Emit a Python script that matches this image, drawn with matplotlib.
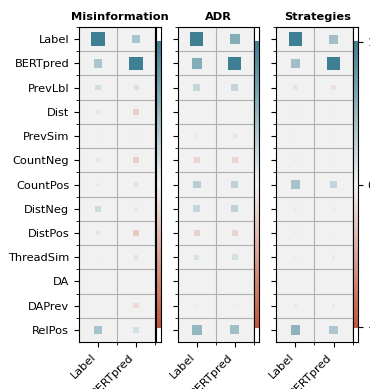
import numpy as np
import matplotlib
matplotlib.use("Agg")
import matplotlib.pyplot as plt
import seaborn as sns

features = ["Label", "BERTpred", "PrevLbl", "Dist", "PrevSim", "CountNeg", "CountPos",
            "DistNeg", "DistPos", "ThreadSim", "DA", "DAPrev", "RelPos"]
targets = ["Label", "BERTpred"]
tasks = ["Misinformation", "ADR", "Strategies"]

misinfo_label = [1.0, 0.40, 0.18, -0.10, 0.02, -0.10, 0.06, 0.20, -0.10, 0.04, 0.0, 0.0, 0.42]
misinfo_bert = [0.40, 1.0, 0.14, -0.22, 0.05, -0.22, -0.12, 0.08, -0.25, 0.12, 0.0, -0.15, 0.16]
adr_label = [1.0, 0.60, 0.24, 0.0, 0.06, -0.18, 0.32, 0.25, -0.20, 0.15, 0.0, -0.04, 0.52]
adr_bert = [0.60, 1.0, 0.25, 0.0, 0.10, -0.18, 0.28, 0.28, -0.18, 0.17, 0.0, -0.04, 0.46]
strat_label = [1.0, 0.45, -0.10, 0.05, 0.03, -0.05, 0.42, -0.07, -0.05, 0.05, 0.0, 0.08, 0.55]
strat_bert = [0.45, 1.0, -0.10, 0.03, 0.05, -0.04, 0.25, -0.06, -0.04, 0.08, 0.0, 0.07, 0.38]

task_values = {
    "Misinformation": (misinfo_label, misinfo_bert),
    "ADR": (adr_label, adr_bert),
    "Strategies": (strat_label, strat_bert),
}

n_colors = 256
palette = sns.diverging_palette(20, 220, n=n_colors)
color_min, color_max = -1, 1
size_scale = 92


def value_to_color(val):
    pos = (val - color_min) / (color_max - color_min)
    ind = int(pos * (n_colors - 1))
    return palette[ind]


fig = plt.figure(figsize=(3.7, 3.89), dpi=100)
outer = fig.add_gridspec(1, 3, left=0.2135, right=0.9676, top=0.9306, bottom=0.1208, wspace=0.21)

fs = 8.2
for i, task in enumerate(tasks):
    inner = outer[i].subgridspec(1, 15, wspace=0.1)
    ax = fig.add_subplot(inner[0, :-1])
    cax = fig.add_subplot(inner[0, -1])

    xs, ys, sizes, colors = [], [], [], []
    for j, col_vals in enumerate(task_values[task]):
        for k, v in enumerate(col_vals):
            xs.append(j)
            ys.append(len(features) - 1 - k)
            sizes.append(abs(v) * size_scale)
            colors.append(value_to_color(v))
    ax.scatter(xs, ys, s=sizes, c=colors, marker="s", linewidths=0)

    ax.set_xticks(range(len(targets)))
    ax.set_xticklabels(targets, rotation=45, ha="right", fontsize=fs)
    ax.set_yticks(range(len(features)))
    if i == 0:
        ax.set_yticklabels(features[::-1], fontsize=fs)
    else:
        ax.set_yticklabels([])
    ax.grid(False, "major")
    ax.grid(True, "minor")
    ax.set_xticks([t + 0.5 for t in range(len(targets))], minor=True)
    ax.set_yticks([t + 0.5 for t in range(len(features))], minor=True)
    ax.set_xlim(-0.5, len(targets) - 0.5)
    ax.set_ylim(-0.5, len(features) - 0.5)
    ax.set_facecolor("#F1F1F1")

    bar_y = np.linspace(color_min, color_max, n_colors)
    bar_h = bar_y[1] - bar_y[0]
    cax.barh(y=bar_y, width=[5] * n_colors, left=[0] * n_colors, height=bar_h,
             color=palette, linewidth=0)
    cax.set_xlim(1, 2)
    cax.grid(False)
    cax.set_facecolor("white")
    cax.set_xticks([])
    if i == len(tasks) - 1:
        cax.set_yticks(np.linspace(min(bar_y), max(bar_y), 3))
        cax.yaxis.tick_right()
        cax.tick_params(labelsize=fs)
    else:
        cax.set_yticks([])

    p0 = ax.get_position()
    p1 = cax.get_position()
    fig.text((p0.x0 + p1.x1) / 2, p0.y1 + 7 / 389, task, ha="center", va="baseline",
             fontsize=fs, fontweight="bold")

fig.savefig("out.png", dpi=100)
